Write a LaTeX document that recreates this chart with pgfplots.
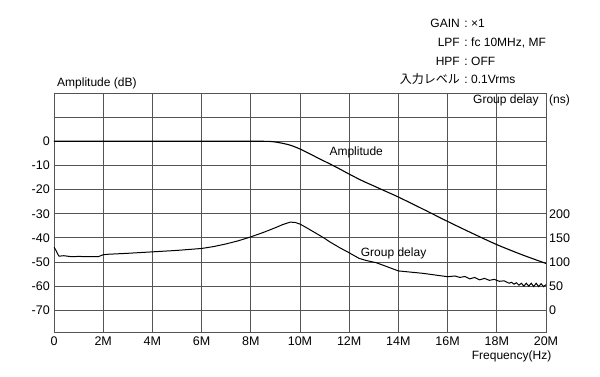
\documentclass[border=0pt]{standalone}
\usepackage{pgfplots}
\pgfplotsset{compat=1.18}
\usepackage{fontspec}
\setmainfont{Liberation Sans}
\newfontfamily\cjk{Noto Sans CJK JP}
\definecolor{gridc}{gray}{0.33}
\begin{document}
\begin{tikzpicture}[x=1pt,y=1pt]
\path[use as bounding box] (-54,-45) rectangle (546,332);
\pgfplotsset{
  every axis/.append style={
    at={(0,0)}, anchor=south west,
    scale only axis, width=492pt, height=239pt,
    xmin=0, xmax=20,
    tick style={draw=none},
    major tick length=0pt,
    tick label style={font=\fontsize{12.5}{14}\selectfont, inner sep=0pt},
  }
}
\begin{axis}[
  ymin=-79, ymax=20,
  xtick={0,2,...,20},
  xticklabels={0,2M,4M,6M,8M,10M,12M,14M,16M,18M,20M},
  ytick={-70,-60,...,10},
  yticklabels={-70,-60,-50,-40,-30,-20,-10,0,{}},
  xticklabel style={anchor=north, yshift=-4.5pt},
  yticklabel style={anchor=east, xshift=-4pt},
  grid=major,
  major grid style={draw=gridc, line width=0.75pt},
  axis line style={draw=gridc, line width=0.75pt},
]
\addplot[black, line width=1.1pt, smooth] coordinates {
(0,0) (4,0) (8,0) (8.5,0) (8.8,-0.08) (9.0,-0.3) (9.2,-0.65) (9.6,-1.6) (10,-3.2)
(10.4,-5.2) (10.8,-7.3) (11.2,-9.3) (11.6,-11.4) (12,-13.6) (12.5,-16.2)
(13,-18.5) (13.5,-20.8) (14,-23.1) (15,-28.1) (16,-33.2) (17,-38.1) (18,-42.8)
(19,-46.9) (20,-50.6)
};
\end{axis}
\begin{axis}[
  ymin=-45, ymax=450,
  axis x line=none,
  axis y line*=right,
  y axis line style={draw=none},
  ytick={0,50,...,200},
  yticklabels={0,50,100,150,200},
  yticklabel style={anchor=west, xshift=3pt},
]
\addplot[black, line width=1.0pt] coordinates {
(0,131) (0.1,122) (0.2,112) (0.4,113) (0.7,111) (1.0,111.5) (1.4,111) (1.8,111)
(2.0,115) (2.2,116) (3,118) (4,121) (5,124) (6,128) (6.5,132) (7,137.5) (7.5,144)
(8,152) (8.5,161) (9,171) (9.3,177.5) (9.6,182.5) (9.8,182) (10,178.5) (10.3,170)
(10.6,161) (11,149) (11.2,142) (11.6,130) (12,119) (12.4,107.5) (12.7,103) (13.1,98.5)
(13.5,91) (14,81.5) (14.5,79) (15,76.5) (15.5,73) (16,69.5) (16.3,71) (16.5,68)
(16.7,70) (16.9,65) (17.1,68) (17.3,63) (17.5,66)
(17.7,62) (17.9,64) (18.1,60) (18.3,61) (18.5,56) (18.6,58) (18.7,54) (18.8,57)
(18.9,52) (19.0,56) (19.1,50) (19.2,56) (19.3,50) (19.4,56) (19.5,49) (19.6,56)
(19.7,49) (19.8,55) (19.9,49) (20.0,53)
};
\end{axis}
\begin{scope}[font=\fontsize{12}{14}\selectfont]
\node[anchor=base west, inner sep=0pt] at (3,245) {Amplitude (dB)};
\node[anchor=base west, inner sep=0pt] at (419,228) {Group delay};
\node[anchor=base west, inner sep=0pt] at (495,228) {(ns)};
\node[anchor=base west, inner sep=0pt] at (275.3,176) {Amplitude};
\node[anchor=base west, inner sep=0pt] at (306.7,75) {Group delay};
\node[anchor=base west, inner sep=0pt] at (417.7,-28) {Frequency(Hz)};
\node[anchor=base east, inner sep=0pt] at (406,304.3) {GAIN};
\node[anchor=base east, inner sep=0pt] at (406,285.3) {LPF};
\node[anchor=base east, inner sep=0pt] at (406,266.7) {HPF};
\node[anchor=base east, inner sep=0pt] at (406,248) {\cjk 入力レベル};
\foreach \yy in {304.3,285.3,266.7,248} \node[anchor=base, inner sep=0pt] at (412,\yy) {:};
\node[anchor=base west, inner sep=0pt] at (417,304.3) {×1};
\node[anchor=base west, inner sep=0pt] at (417,285.3) {fc 10MHz, MF};
\node[anchor=base west, inner sep=0pt] at (417,266.7) {OFF};
\node[anchor=base west, inner sep=0pt] at (417,248) {0.1Vrms};
\end{scope}
\end{tikzpicture}
\end{document}
